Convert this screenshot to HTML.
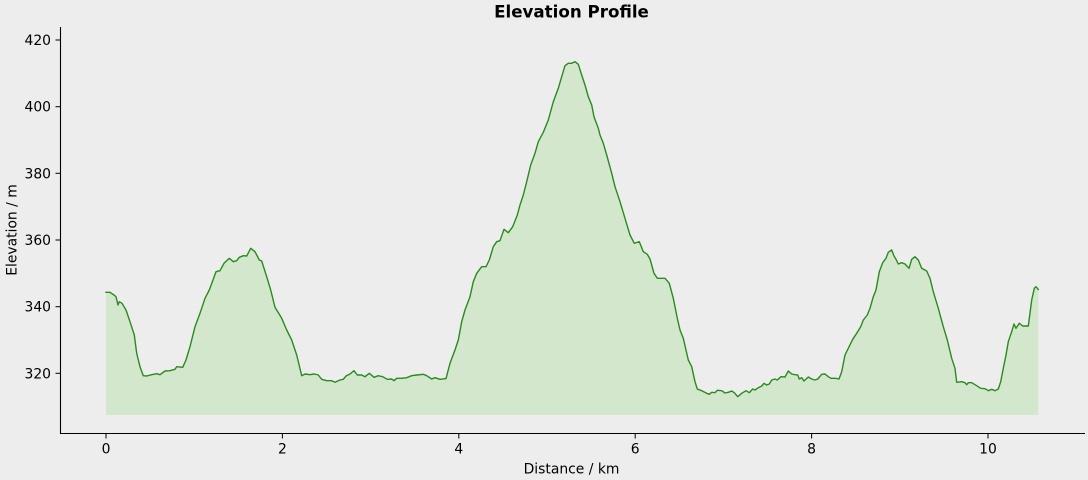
<!DOCTYPE html>
<html>
<head>
<meta charset="utf-8">
<style>
  html, body { margin: 0; padding: 0; background: #ededed; }
  body { width: 1088px; height: 480px; overflow: hidden; }
  svg { display: block; }
  text { font-family: "DejaVu Sans", "Liberation Sans", sans-serif; fill: #000; }
</style>
</head>
<body>
<svg width="1088" height="480" viewBox="0 0 1088 480" xmlns="http://www.w3.org/2000/svg">
  <rect x="0" y="0" width="1088" height="480" fill="#ededed"/>

  <!-- fill -->
  <path fill="#d3e7cd" stroke="none" d="M106,292.3 L110,292.3 L114,295 L116,296.7 L118,305 L119.3,301.7 L122,303.3 L126,310 L130,321.7 L134.3,335 L136.7,353.3 L140,366.7 L143.3,375.7 L146.7,376 L151.7,374.7 L156.7,373.7 L160,374.7 L165,371 L170,370.7 L175,369.3 L176.7,366.7 L182.7,367.3 L186,360 L190,346.7 L195,326.7 L200,313.3 L205,298.3 L209.3,290 L216,271.7 L220,270.7 L224,263.3 L229.3,258.3 L233.3,261.7 L236.7,260.7 L239.3,257.3 L243.3,255.7 L246.7,256 L250.7,248.3 L255,251.7 L259.3,260 L261.7,261 L266.7,276.7 L270.7,290 L275,307.3 L281.7,318.3 L286.7,330 L291.7,340 L296.7,355 L301.7,375.7 L305,374 L310,374.7 L314.3,374 L318.3,375 L321.7,379.3 L326.7,380.7 L331.7,380.7 L335,382.3 L340,380 L343.3,379.3 L346,376 L350,374 L354,370.7 L357.3,375 L361.7,375 L365,376.7 L369.3,373.3 L374,377.3 L378.3,375.7 L382.7,376.7 L387.3,379.3 L391.7,379 L394,380.7 L396.7,378.3 L401.7,378.3 L406.7,377.7 L411.7,375.7 L416.7,375 L423.3,374.3 L426.7,375.7 L431.7,379 L435,377.7 L440,379.3 L446,378.6 L450,363.3 L455,350 L458.3,340 L461.7,321.7 L465,310 L470,296.7 L473.3,281.7 L476.7,273.3 L481.7,266.7 L486,266.7 L489.3,260 L493.3,246.7 L496.7,241.7 L500,240.7 L504,229.3 L508.3,232.7 L512.7,226.7 L517.3,215 L520,205 L523.3,195 L526.7,181.7 L530.7,165 L535,153.3 L538.3,141.7 L543.3,132.3 L548.3,120 L553.3,101.7 L558.3,88.3 L561.7,76.7 L565,65.7 L568.3,63.3 L571.7,63.3 L575,61.7 L578.3,64.3 L581.7,75 L585,85 L588.3,96.7 L591.7,105 L594,116.7 L598.3,128.3 L600,135 L603.3,143.3 L606.7,155 L611.7,173.3 L615,186.7 L620,201.7 L625,218.3 L630,235 L634.3,243.3 L639.3,241.7 L643.3,251.7 L647.3,254.3 L650,259 L654,273.3 L657.3,278.3 L665,278.3 L669.3,283.3 L673.3,298.3 L677.3,318.3 L680,330 L683.3,338.3 L688.3,360 L691.7,366.7 L695,381.7 L697.3,389 L701.7,390.7 L706.7,393.3 L709.3,394.3 L711.7,392.3 L715,392.7 L717.3,390.3 L721.7,390.7 L725,393 L728.3,392.3 L731.7,391 L734.3,392.7 L737.7,396.7 L741.7,393.3 L746,390.7 L749.3,392.7 L752.7,389 L755,390 L758.3,387.7 L761.7,386 L764,383.3 L766.7,385 L769.3,384 L771.7,380 L775,379 L777.3,380 L781,376.7 L785,377 L788.3,371 L791.7,374 L795,374.7 L797.7,375 L799.3,379 L801.7,377.7 L804,381 L808.3,377 L811.7,379 L815,380 L817.7,379 L821.7,374.3 L825,374 L828.3,376.7 L831,378.3 L835.7,378.3 L839,379 L841.7,371.7 L845,355 L848.3,348.3 L852.7,339.3 L856.7,333.3 L860.7,326.7 L863.3,320 L867.3,315 L870,308.3 L873.3,296.7 L876,290 L879.3,271.7 L882.7,262.7 L886,258.3 L888.3,252.3 L891.7,250 L894,256 L896,259.3 L898.3,264 L901.7,262.7 L905,264 L909,268.3 L911.7,259.3 L915,256.7 L918.3,260 L921.7,268.3 L926.7,271 L930,278.3 L933.3,291.7 L938.3,308.3 L943.3,326.7 L947.3,340 L951.7,358.3 L955,368.3 L956.7,382.3 L961.7,381.7 L965,382.7 L966.7,384.7 L968.3,382.7 L971.7,382.7 L976.7,385.7 L980.7,388.3 L985,388.7 L988.3,390.7 L991.7,389.3 L995,390.7 L998.3,389 L1000.7,381.7 L1003.3,368.3 L1006,355 L1008.3,341.7 L1011.7,331.7 L1014,324 L1016,328.3 L1019.3,323.3 L1022.7,326 L1028.3,326 L1031.7,300 L1034.3,288.3 L1036,286.7 L1038.3,289.5 L1038.3,415 L106,415 Z"/>

  <!-- line -->
  <path fill="none" stroke="#2a8a1f" stroke-width="1.4" stroke-linejoin="round" stroke-linecap="square" d="M106,292.3 L110,292.3 L114,295 L116,296.7 L118,305 L119.3,301.7 L122,303.3 L126,310 L130,321.7 L134.3,335 L136.7,353.3 L140,366.7 L143.3,375.7 L146.7,376 L151.7,374.7 L156.7,373.7 L160,374.7 L165,371 L170,370.7 L175,369.3 L176.7,366.7 L182.7,367.3 L186,360 L190,346.7 L195,326.7 L200,313.3 L205,298.3 L209.3,290 L216,271.7 L220,270.7 L224,263.3 L229.3,258.3 L233.3,261.7 L236.7,260.7 L239.3,257.3 L243.3,255.7 L246.7,256 L250.7,248.3 L255,251.7 L259.3,260 L261.7,261 L266.7,276.7 L270.7,290 L275,307.3 L281.7,318.3 L286.7,330 L291.7,340 L296.7,355 L301.7,375.7 L305,374 L310,374.7 L314.3,374 L318.3,375 L321.7,379.3 L326.7,380.7 L331.7,380.7 L335,382.3 L340,380 L343.3,379.3 L346,376 L350,374 L354,370.7 L357.3,375 L361.7,375 L365,376.7 L369.3,373.3 L374,377.3 L378.3,375.7 L382.7,376.7 L387.3,379.3 L391.7,379 L394,380.7 L396.7,378.3 L401.7,378.3 L406.7,377.7 L411.7,375.7 L416.7,375 L423.3,374.3 L426.7,375.7 L431.7,379 L435,377.7 L440,379.3 L446,378.6 L450,363.3 L455,350 L458.3,340 L461.7,321.7 L465,310 L470,296.7 L473.3,281.7 L476.7,273.3 L481.7,266.7 L486,266.7 L489.3,260 L493.3,246.7 L496.7,241.7 L500,240.7 L504,229.3 L508.3,232.7 L512.7,226.7 L517.3,215 L520,205 L523.3,195 L526.7,181.7 L530.7,165 L535,153.3 L538.3,141.7 L543.3,132.3 L548.3,120 L553.3,101.7 L558.3,88.3 L561.7,76.7 L565,65.7 L568.3,63.3 L571.7,63.3 L575,61.7 L578.3,64.3 L581.7,75 L585,85 L588.3,96.7 L591.7,105 L594,116.7 L598.3,128.3 L600,135 L603.3,143.3 L606.7,155 L611.7,173.3 L615,186.7 L620,201.7 L625,218.3 L630,235 L634.3,243.3 L639.3,241.7 L643.3,251.7 L647.3,254.3 L650,259 L654,273.3 L657.3,278.3 L665,278.3 L669.3,283.3 L673.3,298.3 L677.3,318.3 L680,330 L683.3,338.3 L688.3,360 L691.7,366.7 L695,381.7 L697.3,389 L701.7,390.7 L706.7,393.3 L709.3,394.3 L711.7,392.3 L715,392.7 L717.3,390.3 L721.7,390.7 L725,393 L728.3,392.3 L731.7,391 L734.3,392.7 L737.7,396.7 L741.7,393.3 L746,390.7 L749.3,392.7 L752.7,389 L755,390 L758.3,387.7 L761.7,386 L764,383.3 L766.7,385 L769.3,384 L771.7,380 L775,379 L777.3,380 L781,376.7 L785,377 L788.3,371 L791.7,374 L795,374.7 L797.7,375 L799.3,379 L801.7,377.7 L804,381 L808.3,377 L811.7,379 L815,380 L817.7,379 L821.7,374.3 L825,374 L828.3,376.7 L831,378.3 L835.7,378.3 L839,379 L841.7,371.7 L845,355 L848.3,348.3 L852.7,339.3 L856.7,333.3 L860.7,326.7 L863.3,320 L867.3,315 L870,308.3 L873.3,296.7 L876,290 L879.3,271.7 L882.7,262.7 L886,258.3 L888.3,252.3 L891.7,250 L894,256 L896,259.3 L898.3,264 L901.7,262.7 L905,264 L909,268.3 L911.7,259.3 L915,256.7 L918.3,260 L921.7,268.3 L926.7,271 L930,278.3 L933.3,291.7 L938.3,308.3 L943.3,326.7 L947.3,340 L951.7,358.3 L955,368.3 L956.7,382.3 L961.7,381.7 L965,382.7 L966.7,384.7 L968.3,382.7 L971.7,382.7 L976.7,385.7 L980.7,388.3 L985,388.7 L988.3,390.7 L991.7,389.3 L995,390.7 L998.3,389 L1000.7,381.7 L1003.3,368.3 L1006,355 L1008.3,341.7 L1011.7,331.7 L1014,324 L1016,328.3 L1019.3,323.3 L1022.7,326 L1028.3,326 L1031.7,300 L1034.3,288.3 L1036,286.7 L1038.3,289.5"/>

  <!-- spines -->
  <line x1="60.5" y1="27" x2="60.5" y2="433.8" stroke="#000" stroke-width="1.1"/>
  <line x1="60" y1="433.5" x2="1085" y2="433.5" stroke="#000" stroke-width="1.1"/>

  <!-- y ticks -->
  <g stroke="#000" stroke-width="1">
    <line x1="55.5" y1="40" x2="60" y2="40"/>
    <line x1="55.5" y1="106.7" x2="60" y2="106.7"/>
    <line x1="55.5" y1="173.3" x2="60" y2="173.3"/>
    <line x1="55.5" y1="240" x2="60" y2="240"/>
    <line x1="55.5" y1="306.7" x2="60" y2="306.7"/>
    <line x1="55.5" y1="373.3" x2="60" y2="373.3"/>
  </g>
  <g font-size="13.9" text-anchor="end">
    <text x="51" y="45">420</text>
    <text x="51" y="111.7">400</text>
    <text x="51" y="178.3">380</text>
    <text x="51" y="245">360</text>
    <text x="51" y="311.7">340</text>
    <text x="51" y="378.3">320</text>
  </g>

  <!-- x ticks -->
  <g stroke="#000" stroke-width="1">
    <line x1="106" y1="434" x2="106" y2="438.5"/>
    <line x1="282.4" y1="434" x2="282.4" y2="438.5"/>
    <line x1="458.8" y1="434" x2="458.8" y2="438.5"/>
    <line x1="635.2" y1="434" x2="635.2" y2="438.5"/>
    <line x1="811.6" y1="434" x2="811.6" y2="438.5"/>
    <line x1="988" y1="434" x2="988" y2="438.5"/>
  </g>
  <g font-size="13.9" text-anchor="middle">
    <text x="106" y="453.3">0</text>
    <text x="282.4" y="453.3">2</text>
    <text x="458.8" y="453.3">4</text>
    <text x="635.2" y="453.3">6</text>
    <text x="811.6" y="453.3">8</text>
    <text x="988" y="453.3">10</text>
  </g>

  <!-- axis labels -->
  <text x="571.5" y="473.3" font-size="13.9" text-anchor="middle">Distance / km</text>
  <text transform="translate(16.5,230) rotate(-90)" font-size="13.9" text-anchor="middle">Elevation / m</text>

  <!-- title -->
  <text x="571.5" y="17.5" font-size="16.7" font-weight="bold" text-anchor="middle">Elevation Profile</text>
</svg>
</body>
</html>
